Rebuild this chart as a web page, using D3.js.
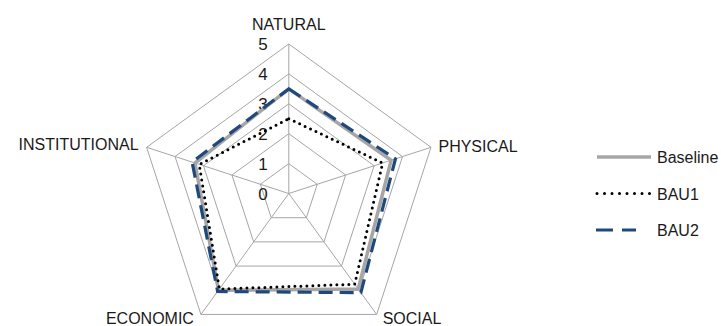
<!DOCTYPE html>
<html>
<head>
<meta charset="utf-8">
<script src="https://cdn.jsdelivr.net/npm/d3@7"></script>
<style>
  html, body { margin: 0; padding: 0; background: #fff; }
  svg { display: block; font-family: "Liberation Sans", Arial, sans-serif; }
</style>
</head>
<body>
<svg id="chart" width="721" height="326"></svg>
<script>
// Capital dimensions scored 0–5
const categories = ["NATURAL", "PHYSICAL", "SOCIAL", "ECONOMIC", "INSTITUTIONAL"];
const baseline = [3.5, 3.6, 3.95, 4.0, 3.3];
const bau1 = [2.5, 3.3, 3.75, 3.95, 3.15];
const bau2 = [3.5, 3.75, 4.1, 4.05, 3.4];
const levelTicks = [0, 1, 2, 3, 4, 5];
const seriesNames = ["Baseline", "BAU1", "BAU2"];

const svg = d3.select("#chart");
const cx = 288.8, cy = 193.5, R = 149.5;

const r = d3.scaleLinear().domain([0, 5]).range([0, R]);
const angle = d3.scalePoint().domain(d3.range(categories.length)).range([0, 2 * Math.PI * 4 / 5]);
const pt = (i, v) => [cx + r(v) * Math.sin(angle(i)), cy - r(v) * Math.cos(angle(i))];

const gridColor = "#a6a6a6";
const textColor = "#1a1a1a";

// Level rings
const g = svg.append("g");
levelTicks.filter(d => d > 0).forEach(lv => {
  g.append("path")
    .attr("d", d3.line()(categories.map((c, i) => pt(i, lv))) + "Z")
    .attr("fill", "none").attr("stroke", gridColor).attr("stroke-width", 1);
});
// Spokes
categories.forEach((c, i) => {
  const [x, y] = pt(i, 5);
  g.append("line").attr("x1", cx).attr("y1", cy).attr("x2", x).attr("y2", y)
    .attr("stroke", gridColor).attr("stroke-width", 1);
});

// Value labels along the first axis
svg.append("g").selectAll("text").data(levelTicks).join("text")
  .attr("x", cx - 21)
  .attr("y", d => cy - r(d) + 6)
  .attr("text-anchor", "end")
  .attr("font-size", 17)
  .attr("fill", textColor)
  .text(d => d);

// Series styles
const styles = {
  Baseline: { color: "#a6a6a6", width: 3.5, dash: null, cap: "butt" },
  BAU1: { color: "#000000", width: 3, dash: "0,6", cap: "round" },
  BAU2: { color: "#1f497d", width: 3.2, dash: "14,7", cap: "butt" }
};
const seriesData = { Baseline: baseline, BAU1: bau1, BAU2: bau2 };

seriesNames.forEach(name => {
  const s = styles[name];
  svg.append("path")
    .attr("d", d3.line()(seriesData[name].map((v, i) => pt(i, v))) + "Z")
    .attr("fill", "none")
    .attr("stroke", s.color)
    .attr("stroke-width", s.width)
    .attr("stroke-linejoin", "miter")
    .attr("stroke-linecap", s.cap)
    .attr("stroke-dasharray", s.dash);
});

// Category labels
const catLabel = [
  { dx: 0, dy: -14, anchor: "middle" },
  { dx: 7.5, dy: 4.5, anchor: "start" },
  { dx: 6, dy: 9.8, anchor: "start" },
  { dx: -7, dy: 9.8, anchor: "end" },
  { dx: -8, dy: 2.5, anchor: "end" }
];
svg.append("g").selectAll("text").data(categories).join("text")
  .attr("x", (d, i) => pt(i, 5)[0] + catLabel[i].dx)
  .attr("y", (d, i) => pt(i, 5)[1] + catLabel[i].dy)
  .attr("text-anchor", (d, i) => catLabel[i].anchor)
  .attr("font-size", 16)
  .attr("fill", textColor)
  .text(d => d);

// Legend
const legend = svg.append("g");
const legendY = d3.scalePoint().domain(seriesNames).range([157, 230]);
seriesNames.forEach(name => {
  const s = styles[name];
  const y = legendY(name);
  legend.append("line")
    .attr("x1", name === "BAU2" ? 596 : 597).attr("x2", name === "BAU2" ? 636 : 651)
    .attr("y1", y).attr("y2", y)
    .attr("stroke", s.color).attr("stroke-width", s.width)
    .attr("stroke-linecap", s.cap)
    .attr("stroke-dasharray", name === "BAU2" ? "17,9" : name === "BAU1" ? "0,7.5" : null);
  legend.append("text")
    .attr("x", 657).attr("y", y + 6)
    .attr("font-size", 16).attr("fill", textColor)
    .text(name);
});
</script>
</body>
</html>
